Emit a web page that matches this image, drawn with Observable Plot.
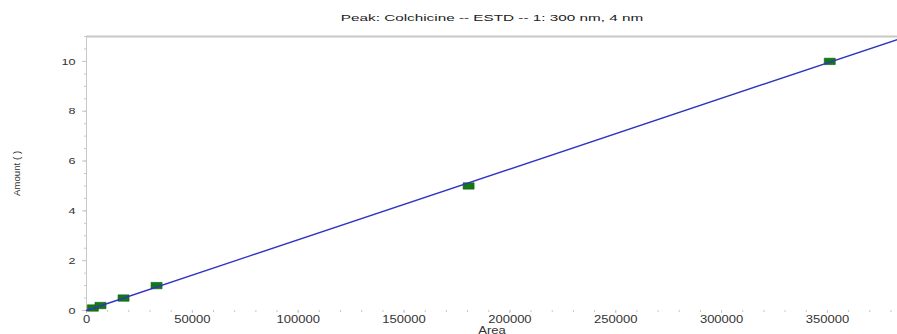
<!DOCTYPE html>
<html>
<head>
<meta charset="utf-8">
<script src="https://cdn.jsdelivr.net/npm/d3@7"></script>
<script src="https://cdn.jsdelivr.net/npm/@observablehq/plot@0.6"></script>
<style>
  html, body { margin: 0; padding: 0; background: #fff; }
  #chart svg { display: block; }
</style>
</head>
<body>
<div id="chart"></div>
<script>
const chartTitle = "Peak: Colchicine -- ESTD -- 1: 300 nm, 4 nm";
const xLabel = "Area";
const yLabel = "Amount ( )";

// calibration points
const areas = [3000, 6600, 17500, 33100, 180500, 351100];
const amounts = [0.1, 0.2, 0.5, 1, 5, 10];

// calibration (fit) line end points
const fitArea = [0, 383100];
const fitAmount = [0, 10.88];

// tick values
const xTicks = [0, 50000, 100000, 150000, 200000, 250000, 300000, 350000];
const xMinorTicks = d3.range(0, 383001, 10000);
const yTicks = [0, 2, 4, 6, 8, 10];
const yMinorTicks = d3.range(0, 11.01, 0.5);

const points = areas.map((a, i) => ({area: a, amount: amounts[i]}));
const fitLine = fitArea.map((a, i) => ({area: a, amount: fitAmount[i]}));

const rectSymbol = {
  draw(context) {
    const w = 5.5, h = 3.2;
    context.moveTo(-w, -h);
    context.lineTo(w, -h);
    context.lineTo(w, h);
    context.lineTo(-w, h);
    context.closePath();
  }
};

const chart = Plot.plot({
  width: 897,
  height: 334,
  marginLeft: 86,
  marginRight: 0,
  marginTop: 36,
  marginBottom: 24,
  style: {fontFamily: "Liberation Sans, Arial, sans-serif", fontSize: "9.5px", color: "#333", background: "#fff"},
  x: {domain: [0, 383100]},
  y: {domain: [0, 11]},
  marks: [
    Plot.ruleY([11], {stroke: "#c8c8c8", strokeWidth: 2}),
    Plot.ruleX([0], {stroke: "#c8c8c8"}),
    Plot.axisX(xMinorTicks, {tickSize: 2, stroke: "#c8c8c8", text: null, label: null}),
    Plot.axisX(xTicks, {tickSize: 3, stroke: "#c8c8c8", tickPadding: 2, fill: "#333",
      tickFormat: d => String(d),
      label: xLabel, labelAnchor: "center", labelArrow: "none", labelOffset: 23, fontSize: 10}),
    Plot.axisY(yMinorTicks, {tickSize: 2, stroke: "#c8c8c8", text: null, label: null}),
    Plot.axisY(yTicks, {tickSize: 4, stroke: "#c8c8c8", tickPadding: 7, fill: "#333",
      label: yLabel, labelAnchor: "center", labelArrow: "none", labelOffset: 73, fontSize: 9.7}),
    Plot.dot(points, {x: "area", y: "amount", symbol: rectSymbol, fill: "#137a13", stroke: "#0c5c0c", strokeWidth: 0.6}),
    Plot.line(fitLine, {x: "area", y: "amount", stroke: "#3232c4", strokeWidth: 1.4}),
    Plot.text([chartTitle], {frameAnchor: "top", dy: -22, fontSize: 9.8, fill: "#222"})
  ]
});

document.getElementById("chart").appendChild(chart);

// The reference image is horizontally stretched: widen horizontal texts to match.
function isRotated(el) {
  for (let n = el; n && n !== chart; n = n.parentNode) {
    const t = n.getAttribute && n.getAttribute("transform");
    if (t && t.includes("rotate")) return true;
  }
  return false;
}
chart.querySelectorAll("text").forEach(t => {
  if (isRotated(t)) return;
  const factor = t.textContent === chartTitle ? 1.56 : 1.3;
  const targets = t.querySelectorAll("tspan").length ? t.querySelectorAll("tspan") : [t];
  targets.forEach(el => {
    const len = el.getComputedTextLength();
    if (len > 0) {
      el.setAttribute("textLength", (len * factor).toFixed(1));
      el.setAttribute("lengthAdjust", "spacingAndGlyphs");
    }
  });
});
</script>
</body>
</html>
